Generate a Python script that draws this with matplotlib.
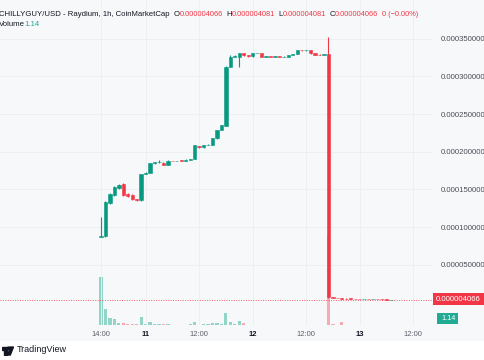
import matplotlib
matplotlib.use('Agg')
import matplotlib.pyplot as plt
from matplotlib.patches import Rectangle, Circle, Polygon
import numpy as np

plt.rcParams['font.family'] = ['Liberation Sans', 'DejaVu Sans']

# hourly candles from the 10th 14:00 onwards, prices in 1e-6 USD
start_hour = 14
opens = [87.5, 88.0, 131.7, 142.7, 151.6, 157.2, 144.0, 142.7, 137.0, 136.0,
         170.5, 172.5, 184.7, 186.0, 185.5, 182.5, 187.8, 187.5, 188.6, 187.9,
         189.4, 190.2, 207.3, 205.9, 208.9, 209.6, 218.3, 229.0, 234.5, 312.8,
         326.1, 326.0, 330.6, 327.9, 326.6, 330.6, 330.6, 326.1, 326.5, 326.2, 326.4, 326.1,
         326.1, 328.7, 329.6, 334.9, 334.5, 334.9, 330.6, 329.0, 328.5, 329.6,
         7.8, 6.2, 6.3, 5.4, 5.6, 4.6, 4.5, 4.4, 4.35, 4.3, 4.25, 4.2, 4.12, 4.066]
closes = [88.0, 133.8, 144.0, 153.7, 156.3, 142.7, 141.3, 137.0, 136.0, 170.5,
          172.5, 184.7, 186.0, 186.5, 182.5, 187.8, 187.5, 187.8, 187.9, 189.4,
          190.2, 209.0, 205.9, 208.9, 209.6, 218.0, 229.0, 235.5, 312.8, 326.1,
          327.4, 330.6, 327.9, 326.5, 330.6, 330.9, 326.1, 326.5, 326.2, 326.4, 326.1, 326.1,
          328.7, 329.2, 334.9, 334.5, 334.9, 330.6, 329.0, 328.5, 329.6, 7.8,
          6.2, 6.0, 5.4, 5.3, 4.6, 4.5, 4.45, 4.4, 4.3, 4.3, 4.2, 4.15, 4.1, 4.066]
highs = [113.5, 135.0, 145.0, 154.5, 157.5, 158.0, 145.0, 143.5, 137.5, 171.0,
         173.0, 185.5, 186.5, 189.0, 186.0, 188.5, 188.2, 188.2, 188.8, 189.8,
         190.5, 209.5, 207.5, 209.3, 210.0, 218.5, 229.5, 236.0, 313.5, 329.0,
         327.8, 331.0, 331.0, 328.2, 331.0, 331.2, 331.0, 326.8, 326.6, 326.7, 326.6, 326.4,
         329.0, 329.6, 335.3, 335.2, 335.2, 335.2, 330.8, 329.3, 329.8, 352.6,
         7.9, 6.4, 6.6, 5.6, 5.7, 4.8, 4.6, 4.5, 4.45, 4.4, 4.3, 4.25, 4.15, 4.081]
lows = [86.5, 87.0, 130.5, 141.0, 150.5, 141.5, 140.0, 136.0, 134.5, 135.0,
        170.0, 172.0, 184.0, 185.5, 182.0, 182.0, 187.2, 187.2, 187.6, 187.6,
        189.0, 189.8, 205.5, 205.5, 208.5, 209.0, 217.5, 228.5, 234.0, 312.5,
        325.8, 312.8, 327.5, 326.2, 326.2, 330.4, 325.8, 325.9, 325.9, 326.0, 325.9, 325.8,
        325.8, 328.4, 329.2, 334.2, 334.3, 330.3, 328.7, 328.2, 328.2, 6.5,
        6.0, 5.8, 5.2, 5.1, 4.5, 4.4, 4.35, 4.3, 4.25, 4.2, 4.15, 4.1, 4.05, 4.05]
volumes = [4770, 1600, 670, 600, 200, 230, 100, 100, 80, 770,
           80, 300, 90, 60, 90, 60, 40, 40, 50, 40,
           60, 330, 50, 60, 90, 170, 170, 100, 1230, 270,
           60, 430, 170, 40, 50, 30, 30, 20, 20, 20, 20, 20,
           40, 30, 50, 30, 30, 40, 30, 30, 30, 9000,
           60, 40, 330, 30, 40, 20, 20, 20, 15, 15, 10, 10, 5, 1.14]

tick_hours = [14, 24, 36, 48, 60, 72, 84]
tick_labels = ['14:00', '11', '12:00', '12', '12:00', '13', '12:00']
price_ticks = [50, 100, 150, 200, 250, 300, 350]
last_price = 4.066
last_volume = '1.14'

UP, DOWN = '#089981', '#f23645'
VUP, VDOWN = '#93d4c8', '#f7abb0'
BG = '#f7f8fa'

W, H = 485, 360
fig = plt.figure(figsize=(W / 100, H / 100), dpi=100)
fig.patch.set_facecolor('white')
fig.add_artist(Rectangle((0, 1 - 341 / H), 1, 341 / H, transform=fig.transFigure,
                         facecolor=BG, edgecolor='none', zorder=-10))

def px(x, y):
    return x / W, 1 - y / H

o = np.array(opens) * 1e-6
c = np.array(closes) * 1e-6
hi = np.array(highs) * 1e-6
lo = np.array(lows) * 1e-6
t = start_hour + np.arange(len(o))
up = c >= o

rect = [0, 35 / H, 432 / W, 325 / H]
vax = fig.add_axes(rect)
ax = fig.add_axes(rect, sharex=vax)
for a in (ax, vax):
    a.patch.set_visible(False)
    for s in a.spines.values():
        s.set_visible(False)

# volume pane
vax.bar(t, volumes, width=0.72, color=np.where(up, VUP, VDOWN), linewidth=0)
vax.set_ylim(0, 32500)
vax.set_yticks([])
vax.tick_params(length=0)
vax.xaxis.set_visible(False)

# candles
ax.vlines(t, lo, hi, colors=np.where(up, UP, DOWN), lw=0.8, zorder=3)
ax.bar(t, np.abs(c - o), bottom=np.minimum(o, c), width=0.75,
       color=np.where(up, UP, DOWN), edgecolor=np.where(up, UP, DOWN),
       linewidth=0.4, zorder=4)
ax.axhline(last_price * 1e-6, color=DOWN, lw=0.7, ls=(0, (1, 1.5)), alpha=0.8, zorder=2)

ax.set_xlim(-8.65, 88.22)
ax.set_ylim(-29.7e-6, 401.3e-6)
ax.set_xticks(tick_hours)
ax.set_xticklabels(tick_labels)
for lab in ax.get_xticklabels():
    if ':' in lab.get_text():
        lab.set_color('#5d606b')
    else:
        lab.set_color('#131722')
        lab.set_fontweight('bold')
ax.tick_params(axis='x', length=0, pad=4, labelsize=5.5)
ax.yaxis.tick_right()
ax.set_yticks(np.array(price_ticks) * 1e-6)
ax.set_yticklabels([f'{v * 1e-6:.9f}' for v in price_ticks])
ax.tick_params(axis='y', length=0, pad=6.5, labelsize=5.6, labelcolor='#4a4d57')
ax.grid(True, color='#eceef2', lw=0.6, zorder=0)

# last price / volume labels
fig.add_artist(Rectangle(px(433, 305), 52 / W, 12 / H, transform=fig.transFigure,
                         facecolor=DOWN, edgecolor='none'))
fig.text(*px(436, 299.5), f'{last_price * 1e-6:.9f}', color='white', fontsize=5.6, va='center')
fig.add_artist(Rectangle(px(437, 324), 21 / W, 11 / H, transform=fig.transFigure,
                         facecolor='#22ab94', edgecolor='none'))
fig.text(*px(441, 318.5), last_volume, color='white', fontsize=5.3, va='center')

# header legend, pieces laid out one after the other
hdr = [('CHILLYGUY/USD - Raydium, 1h, CoinMarketCap', '#131722', 5.6, 4),
       ('O', '#131722', 5.6, 0), ('0.000004066', DOWN, 5.3, 3.5),
       ('H', '#131722', 5.6, 0), ('0.000004081', DOWN, 5.3, 3.5),
       ('L', '#131722', 5.6, 0), ('0.000004081', DOWN, 5.3, 3.5),
       ('C', '#131722', 5.6, 0), ('0.000004066', DOWN, 5.3, 3.5),
       ('0 (\u22120.00%)', DOWN, 5.3, 0)]
renderer = fig.canvas.get_renderer()
x = -1
for s, col, fs, gap in hdr:
    txt = fig.text(*px(x, 14), s, color=col, fontsize=fs, va='center')
    x += txt.get_window_extent(renderer).width + gap
fig.text(*px(-1, 24), 'Volume', color='#131722', fontsize=5.6, va='center')
fig.text(*px(24, 24), last_volume, color='#22ab94', fontsize=5.6, va='center')

# TradingView mark
lax = fig.add_axes([2 / W, 1 - 356 / H, 12 / W, 11 / H])
lax.set_xlim(0, 12)
lax.set_ylim(0, 11)
lax.axis('off')
lax.add_patch(Polygon([(0, 9), (5, 9), (5, 1), (2.5, 1), (2.5, 6.5), (0, 6.5)], color='#131722'))
lax.add_patch(Circle((6.7, 7.7), 1.3, color='#131722'))
lax.add_patch(Polygon([(8.6, 9), (11.5, 9), (8.3, 1), (5.5, 1)], color='#131722'))
fig.text(*px(17, 350), 'TradingView', color='#131722', fontsize=6.5, va='center')

fig.savefig('out.png', dpi=100, facecolor=fig.get_facecolor())
